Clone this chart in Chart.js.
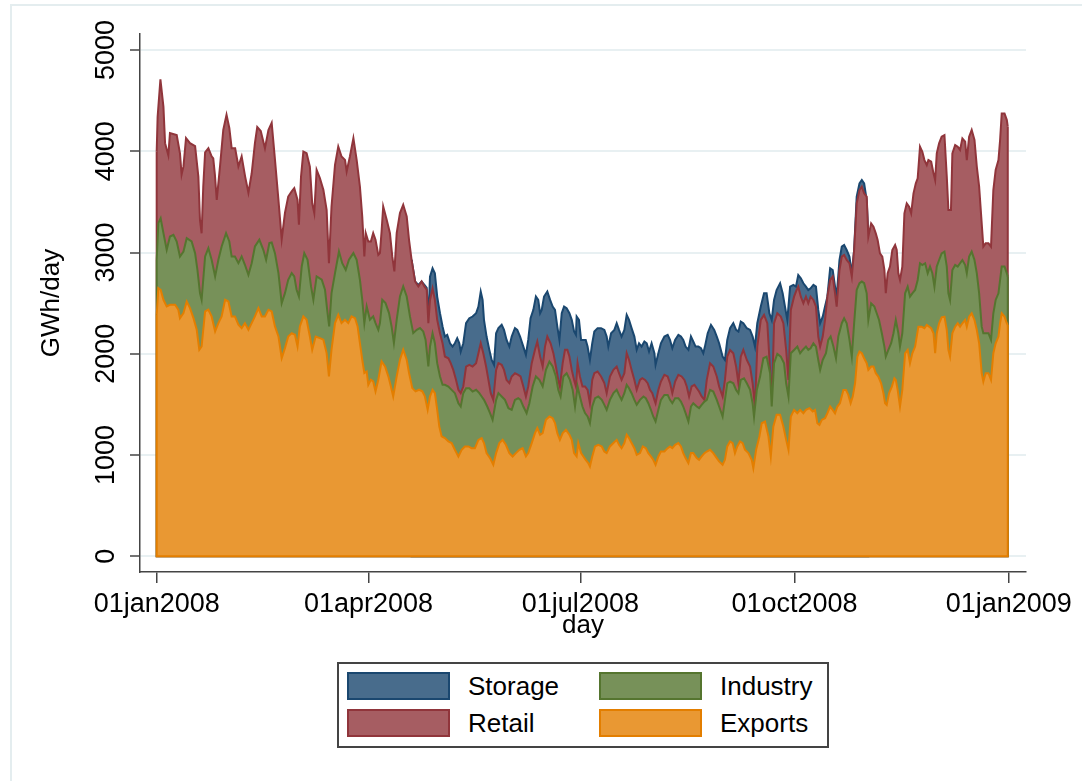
<!DOCTYPE html>
<html lang="en">
<head>
    <meta charset="UTF-8">
    <title>GWh/day by use, 2008</title>
    <script src="https://cdn.jsdelivr.net/npm/chart.js"></script>
    <style>
        body {
            margin: 0;
            background: #fff;
            font-family: "Liberation Sans", Arial, sans-serif;
        }
        #wrap {
            position: relative;
            width: 1082px;
            height: 781px;
            overflow: hidden;
        }
        #frame {
            position: absolute;
            left: 10px;
            top: 4px;
            width: 1200px;
            height: 900px;
            border-left: 2px solid #e4edef;
            border-top: 2px solid #e4edef;
        }
        canvas { position: absolute; left: 0; top: 0; }
        #legend {
            position: absolute;
            left: 337px;
            top: 662px;
            width: 492px;
            height: 86px;
            box-sizing: border-box;
            border: 2px solid #444;
            background: #fff;
        }
        #legend .key {
            position: absolute;
            width: 103px;
            height: 28px;
            box-sizing: border-box;
            border: 2px solid;
        }
        #legend .txt {
            position: absolute;
            font-size: 26px;
            line-height: 28px;
            color: #000;
        }
    </style>
</head>
<body>
<div id="wrap">
    <div id="frame"></div>
    <canvas id="chart" width="1082" height="781"></canvas>
    <div id="legend"></div>
</div>

<script>
// day = days since 01jan2008; each band is stored as the running total at its top edge (GWh/day)
const xTickDays = [0, 91, 182, 274, 366];
const xTickLabels = ['01jan2008', '01apr2008', '01jul2008', '01oct2008', '01jan2009'];
const yTickValues = [0, 1000, 2000, 3000, 4000, 5000];

const exportsLevel = [
    [0,2385],[0.7,2648],[1.7,2632],[2.9,2533],[4.3,2468],[5.7,2484],[7.9,2484],[9.3,2435],[10,2352],[11.5,2402],
    [12.9,2517],[14.3,2451],[15.8,2352],[17.2,2237],[18.3,2040],[19.3,2073],[20.8,2418],[22.2,2435],[23.6,2369],[25.1,2221],
    [26.5,2303],[27.9,2369],[29.4,2533],[30.8,2517],[32.2,2369],[33.6,2369],[35.1,2287],[36.5,2254],[37.9,2303],[39.4,2237],
    [40.8,2303],[42.2,2369],[43.7,2451],[45.1,2369],[46.5,2369],[48,2435],[49.4,2418],[50.8,2270],[52.3,2171],[53.7,1957],
    [55.1,2056],[56.5,2171],[58,2204],[59.4,2188],[60.5,2073],[61.5,2270],[63,2369],[64.4,2336],[65.8,2171],[66.8,2040],
    [68.3,2171],[70.1,2155],[71.6,2139],[73,2007],[74,1777],[75.1,2040],[76.6,2303],[78,2385],[79.4,2303],[80.9,2336],
    [82.3,2303],[83.7,2369],[85.2,2352],[86.3,2270],[87.3,2106],[88.3,1941],[89.2,1810],[90.2,1826],[90.9,1694],[92,1744],
    [93,1727],[94,1629],[95.2,1744],[96.6,1925],[98.1,1875],[99.5,1777],[100.6,1678],[101.6,1579],[103.1,1777],[104.5,1941],
    [105.9,2040],[107.4,1941],[108.4,1810],[109.8,1661],[111.2,1629],[112.7,1645],[114.1,1629],[115.2,1579],[116.4,1448],[117.4,1578],
    [118.5,1644],[119.5,1611],[120.5,1447],[121.4,1282],[122.4,1184],[123.8,1167],[125.3,1134],[126.7,1118],[128.1,1052],[129.6,986],
    [131,1052],[132.4,1085],[133.9,1085],[135.3,1068],[136.7,1068],[138.2,1150],[139.6,1167],[140.6,1118],[141.7,1019],[143.2,970],
    [144.6,904],[145.8,1019],[147.2,1118],[148.6,1150],[150,1101],[151.5,1019],[152.9,986],[154.3,1019],[155.8,1052],[157.2,1068],
    [158.6,986],[159.6,1019],[161.1,1118],[162.5,1216],[163.5,1266],[164.7,1200],[165.8,1216],[167.2,1348],[168.7,1381],[170.1,1364],
    [171.1,1315],[172.1,1216],[173.2,1150],[174.4,1216],[175.8,1249],[177.3,1200],[178.3,1150],[179.3,1019],[180.4,986],[181.1,1118],
    [182.3,1019],[183.3,986],[184.3,953],[185.4,920],[186.1,887],[187.1,986],[188.3,1085],[189.7,1101],[191.2,1085],[192.3,1035],
    [193.3,1019],[194.7,1085],[196.2,1118],[197.6,1150],[198.6,1101],[199.7,1068],[200.9,1118],[201.9,1200],[202.9,1167],[204,1118],
    [205.2,1068],[206.2,1002],[207.6,1019],[208.8,1085],[210.1,1068],[211.2,1019],[212.3,986],[213.3,953],[214.3,904],[215.5,986],
    [216.6,1035],[218.1,1035],[219.5,1068],[220.5,1085],[221.5,1068],[222.7,1101],[224.1,1118],[225.2,1085],[226.2,1019],[227.2,970],
    [228.4,920],[229.5,1019],[230.5,1019],[232,970],[233,953],[234.1,986],[235.3,1019],[236.3,1035],[237.7,1052],[239.1,1019],
    [240.6,970],[241.6,937],[243.1,904],[244.1,953],[245.1,1085],[246.3,1134],[247.4,1118],[248.4,1019],[249.4,1085],[250.6,1134],
    [251.7,1118],[252.7,1052],[254.2,1019],[255.6,953],[256.3,871],[257.5,1052],[258.9,1183],[259.9,1314],[261.3,1331],[262.8,1183],
    [263.8,986],[264.9,1282],[266.3,1397],[267.8,1397],[269.2,1282],[270.4,1150],[271.4,1052],[272.4,1380],[273.8,1446],[275.2,1413],
    [276.4,1446],[277.8,1413],[278.9,1446],[280.4,1463],[281.8,1430],[282.8,1446],[283.8,1314],[284.7,1298],[285.7,1347],[287.1,1364],
    [288.1,1413],[289.3,1479],[290.4,1446],[291.4,1413],[292.4,1479],[293.5,1512],[295,1643],[296.1,1643],[297.1,1594],[298.1,1512],
    [299,1577],[300,1709],[301,1972],[301.9,2022],[302.9,2005],[303.9,1956],[305,1907],[305.7,1841],[306.9,1874],[307.9,1874],
    [308.9,1808],[310,1775],[311.2,1709],[312.2,1610],[312.9,1512],[313.6,1495],[314.6,1610],[315.8,1676],[316.9,1758],[317.5,1742],
    [318.3,1643],[319.3,1479],[320.3,1643],[321.5,2005],[322.6,2038],[323.6,1907],[324.6,2005],[325.8,2071],[327.2,2268],[328.6,2268],
    [329.8,2252],[330.8,2285],[331.8,2268],[332.7,2252],[333.7,2203],[334.4,2005],[335.1,2203],[336.1,2301],[337.2,2360],[338.4,2367],
    [339.4,2235],[340.1,2038],[340.8,1972],[341.8,2203],[343,2268],[344.1,2301],[345.1,2268],[346.1,2301],[347.3,2334],[348,2268],
    [349,2367],[350.1,2400],[351.3,2334],[352.3,2235],[353.3,2104],[354.4,1808],[355.1,1725],[356.1,1808],[357.3,1808],[358.4,1742],
    [359.4,2005],[360.4,2104],[361.6,2170],[362.3,2301],[363,2400],[364.2,2367],[365.2,2301],[365.6,2285]
];

const industryLevel = [
    [0,2928],[0.7,3290],[1.7,3339],[2.9,3191],[4.3,3027],[5.7,3158],[7.2,3175],[8.6,3109],[10,2961],[11.5,3010],
    [12.9,3142],[15,3109],[16.5,2994],[17.5,2829],[18.6,2599],[19.3,2533],[20.8,2961],[22.2,3043],[23.6,2928],[25.1,2764],
    [26.5,2928],[27.9,3060],[29.8,3191],[31.2,3109],[32.2,2961],[33.6,2961],[35.1,2895],[36.5,2961],[37.9,2879],[39.4,2780],
    [40.8,2895],[42.2,3060],[44.1,3126],[45.8,3027],[47,2928],[48.4,3093],[49.4,3099],[50.8,2994],[52.3,2797],[53.7,2500],
    [55.1,2599],[56.5,2731],[58,2797],[59.1,2764],[60.1,2632],[61.1,2566],[62.3,2862],[63.4,2994],[64.8,2928],[66.3,2665],
    [67.3,2533],[68.7,2764],[70.9,2731],[72.3,2632],[73.4,2402],[74.1,2270],[75.1,2599],[76.6,2797],[78.3,3010],[79.7,2895],
    [81.2,2829],[82.6,2928],[84.5,2994],[85.9,2928],[87.3,2731],[88.3,2533],[89.2,2303],[90.2,2468],[91.6,2336],[93,2369],
    [94,2303],[95.2,2237],[95.9,2303],[96.9,2533],[98.3,2500],[99.8,2402],[100.9,2270],[101.9,2106],[103.1,2336],[104.5,2566],
    [105.9,2665],[107.4,2566],[108.8,2369],[110.2,2204],[111.7,2237],[113.1,2254],[114.5,2221],[115.5,2139],[116.7,1875],[117.4,2071],
    [118.5,2203],[119.5,2104],[120.5,1907],[121.7,1776],[122.8,1693],[123.8,1693],[125.3,1677],[126.7,1644],[128.1,1611],[129.6,1512],
    [130.6,1479],[131.7,1611],[132.9,1660],[134.3,1660],[135.7,1627],[137.2,1644],[138.6,1611],[139.6,1578],[140.6,1545],[142,1479],
    [143.2,1414],[144.3,1348],[145.8,1545],[146.8,1611],[148.2,1578],[149.6,1545],[151.1,1463],[152.5,1447],[153.9,1545],[155.3,1561],
    [156.3,1545],[157.5,1479],[158.9,1414],[160.1,1512],[161.5,1677],[162.9,1776],[164.4,1742],[165.8,1677],[167.2,1841],[168.7,1923],
    [170.1,1874],[171.5,1776],[172.5,1644],[173.5,1578],[174.7,1776],[176.1,1808],[177.5,1742],[178.7,1644],[179.7,1479],[180.8,1677],
    [181.8,1578],[182.9,1479],[184,1414],[185.1,1381],[186.1,1315],[187.1,1479],[188.3,1561],[189.7,1578],[191.2,1545],[192.3,1496],
    [193.3,1447],[194.7,1545],[196.2,1611],[197.6,1644],[198.6,1594],[199.7,1545],[200.9,1611],[201.9,1693],[202.9,1660],[204,1611],
    [205.2,1545],[206.2,1496],[207.6,1545],[209.1,1578],[210.1,1561],[211.2,1512],[212.3,1447],[213.3,1381],[214.3,1332],[215.5,1447],
    [216.6,1545],[218.1,1594],[219.5,1594],[220.5,1545],[221.5,1512],[222.7,1561],[224.1,1561],[225.2,1528],[226.2,1479],[227.2,1414],
    [228.4,1332],[229.5,1479],[230.5,1512],[232,1479],[233,1463],[234.1,1496],[235.3,1528],[236.3,1545],[237.7,1644],[239.1,1627],
    [240.6,1545],[241.6,1479],[243.1,1380],[244.1,1545],[245.1,1709],[246.3,1726],[247.7,1709],[248.9,1643],[249.9,1610],[250.9,1742],
    [252.3,1758],[253.5,1709],[254.9,1643],[256,1511],[256.6,1380],[257.8,1643],[259.2,1775],[260.6,1956],[262,1972],[263.5,1808],
    [264.2,1479],[265.2,1907],[266.6,1998],[268.1,1972],[269.5,1907],[270.4,1709],[271.4,1578],[272.4,2005],[273.8,2038],[275.2,2071],
    [276.4,2005],[277.5,2038],[278.9,2071],[279.9,2038],[280.9,2055],[282.1,2104],[283.2,2071],[284.2,1939],[285,1841],[286.1,1939],
    [287.5,2005],[288.5,2137],[289.5,2170],[290.7,2071],[291.8,1956],[292.8,2170],[294.3,2302],[295.3,2351],[296.4,2302],[297.6,2137],
    [298.6,1972],[299.6,2302],[300.7,2631],[301.9,2697],[302.9,2713],[303.9,2697],[305,2597],[305.7,2334],[306.9,2499],[308.3,2466],
    [309.3,2400],[310.3,2334],[311.5,2203],[312.6,2071],[313.2,1972],[314.3,2038],[315.5,2104],[316.5,2203],[317.5,2334],[318.6,2203],
    [319.3,2071],[320.3,2203],[321.5,2597],[322.6,2663],[323.6,2564],[324.6,2597],[325.8,2630],[326.9,2729],[327.9,2894],[328.9,2877],
    [330.1,2894],[331.2,2795],[332.2,2861],[333.2,2795],[334.1,2663],[335.1,2861],[336.1,2926],[337.2,2992],[338.4,3009],[339.4,2861],
    [340.1,2597],[340.8,2532],[341.8,2828],[343,2877],[344.1,2861],[345.1,2894],[346.1,2926],[347.3,2877],[348,2795],[349,2959],
    [350.1,3009],[351.3,2926],[352.3,2795],[353.3,2597],[354.4,2268],[355.1,2203],[356.1,2203],[357.3,2203],[358.4,2137],[359.4,2400],
    [360.4,2532],[361.6,2597],[362.3,2729],[363,2861],[364.2,2861],[365.2,2795],[365.6,2762]
];

const retailLevel = [
    [0,4000],[0.4,4340],[1.6,4710],[2.9,4440],[3.6,4080],[5,3960],[5.7,4180],[8.6,4160],[10,3980],[10.7,3770],
    [11.5,3850],[12.6,4130],[14.3,4080],[16.5,4050],[17.9,3750],[18.6,3320],[19.3,3190],[20,3650],[20.8,3990],[22.2,4030],
    [23.6,3950],[24.3,3930],[25,3770],[25.8,3520],[27.2,3850],[28.6,4210],[30,4360],[31.2,4230],[32.2,4030],[33.7,4030],
    [35.1,3850],[36.5,3950],[38,3750],[39.4,3590],[40.8,3780],[42.2,4080],[43.2,4240],[44.7,4200],[46.5,4030],[48,4210],
    [49.4,4280],[50.8,3920],[52.3,3520],[53.7,3130],[55.1,3390],[56.5,3553],[58,3603],[59.1,3635],[60.5,3520],[61.1,3274],
    [62,3751],[63,3997],[64.4,3981],[65.8,3849],[66.8,3487],[67.7,3389],[68.7,3816],[70.1,3734],[71.6,3619],[73,3422],
    [74,2895],[75.1,3455],[76.6,3866],[78,4047],[79.4,3948],[80.9,3915],[81.6,3800],[83,3948],[84.5,4129],[85.9,3915],
    [87.3,3652],[88.3,3356],[89.2,2961],[89.8,3191],[90.9,3109],[92,3109],[93,3191],[94,3126],[95.2,2977],[95.9,2994],
    [96.6,3208],[97.3,3455],[98.8,3323],[100.2,3191],[101.2,2961],[102.1,2813],[103.1,3191],[104.5,3389],[105.9,3471],[107.4,3356],
    [108.4,3126],[109.5,2928],[111,2714],[112.4,2665],[113.8,2714],[115,2665],[116,2632],[116.7,2303],[117.4,2532],[118.5,2647],
    [119.5,2532],[120.5,2335],[121.7,2203],[122.8,2104],[123.8,1973],[125.3,1956],[126.3,1907],[127.4,1841],[128.6,1742],[129.6,1644],
    [130.6,1611],[131.7,1677],[132.9,1874],[134.3,1891],[135.7,1874],[137.2,1907],[138.2,2006],[139.2,2104],[140.3,2006],[141.5,1874],
    [142.5,1742],[143.5,1611],[144.6,1545],[145.8,1841],[146.8,1907],[148.2,1891],[149.2,1841],[150.3,1742],[151.5,1710],[152.5,1776],
    [153.9,1808],[155.3,1792],[156.3,1776],[157.5,1677],[158.6,1578],[159.6,1677],[161.1,1907],[162.5,2039],[163.5,2121],[164.7,1973],
    [165.8,1874],[166.8,2071],[167.8,2170],[169.2,2104],[170.4,2006],[171.5,1874],[172.5,1742],[173.2,1677],[174.4,1907],[175.4,2039],
    [176.4,2039],[177.3,1973],[178.3,1841],[179.3,1742],[180.1,1677],[180.8,1907],[181.8,1776],[182.9,1677],[184,1677],[185.1,1644],
    [186.1,1512],[187.1,1742],[188,1808],[189.4,1825],[190.9,1776],[192.3,1710],[193.3,1611],[194.7,1776],[196.2,1841],[197.6,1874],
    [198.6,1808],[199.7,1742],[200.9,1808],[201.9,2006],[202.9,1940],[204,1841],[205.2,1742],[206.2,1644],[207.6,1742],[208.6,1759],
    [209.8,1742],[210.9,1710],[211.9,1644],[212.9,1611],[213.8,1545],[214.3,1512],[215.5,1644],[216.6,1726],[218.1,1792],[219.5,1776],
    [220.5,1710],[221.5,1611],[222.7,1726],[224.1,1792],[225.5,1776],[226.7,1742],[227.7,1677],[228.7,1578],[229.8,1677],[231,1693],
    [232,1660],[233,1627],[234.1,1578],[235.3,1545],[236.3,1742],[237.7,1907],[239.1,1874],[240.6,1776],[241.6,1677],[243.1,1578],
    [244.1,1742],[245.1,1972],[246.3,2038],[247.7,2005],[248.9,1874],[249.9,1709],[250.9,1972],[252,2038],[253.5,1939],[254.9,1874],
    [256,1709],[257,1479],[258,2071],[259.5,2334],[260.9,2384],[262.3,2302],[263.5,1841],[264.2,1479],[265.2,2302],[266.6,2400],
    [268.1,2367],[269.2,2302],[270.4,2038],[271.4,1742],[272.4,2433],[273.8,2564],[274.9,2630],[275.6,2663],[276.7,2564],[277.8,2499],
    [278.9,2564],[279.9,2499],[280.9,2564],[282.1,2532],[283.2,2466],[284.2,2170],[285,2071],[286.1,2170],[287.1,2334],[288.1,2564],
    [289.3,2729],[290.4,2762],[291.4,2597],[292.1,2466],[293.3,2827],[294.3,2959],[295.3,2976],[296.4,2926],[297.6,2893],[298.6,2762],
    [299.6,3025],[300.7,3485],[301.9,3617],[302.9,3650],[303.9,3584],[305,3551],[305.7,3157],[306.9,3288],[307.9,3255],[308.9,3189],
    [309.7,3124],[310.7,2992],[311.7,2960],[312.6,2828],[313.2,2598],[314,2795],[315,2861],[316,3025],[317.2,3074],[317.9,3025],
    [318.6,2795],[319.3,2729],[320.3,2861],[321.2,3387],[322.2,3486],[323.2,3453],[324.1,3387],[325.1,3584],[326.1,3683],[326.9,3732],
    [327.9,4045],[328.9,3995],[329.8,3913],[330.8,3864],[331.5,3913],[332.7,3897],[333.7,3782],[334.4,3716],[335.1,3979],[336.1,4078],
    [337.2,4144],[338.4,4160],[339.4,3749],[340.1,3420],[341.2,3420],[341.8,3979],[343,4061],[344.1,4045],[345.1,4012],[346.1,4127],
    [347.3,4094],[348,3913],[349,4144],[350.1,4210],[351.3,4111],[352.3,3848],[353.3,3650],[354.4,3288],[355.1,3058],[356.1,3091],
    [357.3,3091],[358.4,3058],[359.4,3617],[360.4,3815],[361.6,3913],[362.3,4111],[363,4374],[364.2,4374],[365.2,4308],[365.6,4243]
];

// storage only shows above retail from late April to early November
const storageLevel = [
    [109.5,2928],[111,2714],[112.4,2680],[113.8,2714],[115,2680],[116,2650],[116.7,2320],[117.4,2762],[118.5,2844],[119.5,2795],
    [120.5,2565],[121.7,2400],[122.8,2269],[123.8,2170],[124.8,2187],[126,2104],[127.1,2071],[128.1,2104],[129.1,2154],[130,2104],
    [130.6,2022],[131.7,2104],[132.9,2302],[134.3,2351],[135.7,2368],[137.2,2400],[138.2,2466],[139.2,2614],[140,2532],[140.6,2335],
    [141.7,2170],[142.9,2039],[143.9,1940],[144.9,1891],[145.8,2203],[146.8,2253],[148.2,2286],[149.2,2236],[150.3,2137],[151.5,2071],
    [152.5,2170],[153.9,2253],[154.9,2236],[156.1,2170],[157.5,2071],[158.6,1989],[159.6,2137],[160.6,2351],[161.8,2434],[162.9,2565],
    [163.9,2532],[164.7,2400],[165.4,2434],[166.4,2565],[167.8,2614],[169,2532],[170.1,2466],[171.1,2434],[172.1,2269],[173,2137],
    [174,2400],[175,2466],[176.1,2450],[177.3,2400],[178.3,2335],[179.3,2220],[180.1,2187],[180.4,2368],[181.4,2335],[182.3,2137],
    [183.3,2137],[184.3,2137],[185.1,2071],[186.1,1940],[187.1,2104],[188,2220],[189.4,2253],[190.9,2253],[192.3,2236],[193.3,2170],
    [194,2071],[195.2,2203],[196.6,2236],[197.6,2302],[198.6,2236],[199.7,2170],[200.9,2236],[201.9,2384],[202.9,2335],[204,2253],
    [205.2,2170],[206.2,2039],[207.2,2104],[208.3,2071],[209.5,2121],[210.5,2104],[211.5,2022],[212.6,2104],[213.8,2006],[214.3,1891],
    [215.5,2006],[216.6,2104],[218.1,2170],[219.5,2187],[220.5,2137],[221.5,2055],[222.7,2137],[224.1,2187],[225.2,2170],[226.2,2137],
    [227.2,2071],[228.4,2039],[229.5,2170],[230.5,2121],[231.5,2071],[232.7,2071],[233.8,2055],[234.8,2006],[235.5,2071],[236.7,2203],
    [238.1,2286],[239.5,2236],[240.6,2170],[241.6,2104],[243.1,1972],[244.1,1939],[245.1,2137],[246.3,2252],[247.7,2302],[248.9,2236],
    [249.9,2219],[250.9,2318],[252,2302],[253.5,2252],[254.9,2236],[256,2170],[257,2071],[258,2302],[259.5,2466],[260.9,2597],
    [262,2597],[263.2,2400],[264.2,2334],[265.2,2532],[266.3,2630],[267.8,2696],[268.9,2597],[269.9,2466],[270.9,2334],[272.1,2663],
    [273.5,2680],[274.6,2663],[275.6,2778],[276.7,2745],[277.8,2696],[278.9,2663],[279.9,2630],[280.9,2647],[282.1,2680],[283.2,2663],
    [284.2,2433],[285,2302],[286.1,2367],[287.1,2466],[288.1,2564],[289.3,2844],[290.4,2827],[291.4,2663],[292.1,2564],[293.3,2926],
    [294.3,3058],[295.3,3075],[296.4,3025],[297.6,2959],[298.6,2795],[299.6,3025],[300.7,3551],[301.9,3683],[302.9,3716],[303.9,3683],
    [305,3518],[305.7,3157]
];

const lineColors = { Storage: '#1a476f', Retail: '#90353b', Industry: '#55752f', Exports: '#e37e00' };
const fillColors = { Storage: '#486c8c', Retail: '#a65d62', Industry: '#779159', Exports: '#e99833' };

function band(name, data) {
    return {
        label: name,
        data: data,
        borderColor: lineColors[name],
        backgroundColor: fillColors[name],
        borderWidth: 2,
        pointRadius: 0,
        tension: 0,
        fill: 'origin'
    };
}

// outline the side and bottom edges of each area, the way Stata closes the polygon
const areaEdges = {
    id: 'areaEdges',
    afterDatasetDraw(chart, args) {
        const pts = args.meta.data;
        if (!pts.length) return;
        const ctx = chart.ctx;
        const y0 = chart.scales.y.getPixelForValue(0);
        const first = pts[0], last = pts[pts.length - 1];
        const area = chart.chartArea;
        ctx.save();
        ctx.beginPath();
        ctx.rect(area.left, area.top, area.right - area.left, area.bottom - area.top);
        ctx.clip();
        ctx.strokeStyle = chart.data.datasets[args.index].borderColor;
        ctx.lineWidth = 2;
        ctx.beginPath();
        ctx.moveTo(first.x, first.y);
        ctx.lineTo(first.x, y0);
        ctx.lineTo(last.x, y0);
        ctx.lineTo(last.x, last.y);
        ctx.stroke();
        ctx.restore();
    }
};

Chart.defaults.font.family = '"Liberation Sans", Arial, sans-serif';
Chart.defaults.color = '#000';

const ctx = document.getElementById('chart').getContext('2d');
const chart = new Chart(ctx, {
    type: 'line',
    data: {
        // first dataset is drawn last, so exports sits in front
        datasets: [
            band('Exports', exportsLevel),
            band('Industry', industryLevel),
            band('Retail', retailLevel),
            band('Storage', storageLevel)
        ]
    },
    options: {
        responsive: false,
        animation: false,
        devicePixelRatio: 1,
        layout: { padding: { left: 20, top: 34, right: 56, bottom: 139.4 } },
        plugins: {
            legend: { display: false },
            tooltip: { enabled: false }
        },
        scales: {
            x: {
                type: 'linear',
                min: -7.17,
                max: 373.43,
                afterBuildTicks: (s) => { s.ticks = xTickDays.map(v => ({ value: v })); },
                afterFit: (s) => { s.height = 69.6; s.paddingLeft = 0; s.paddingRight = 0; },
                ticks: {
                    autoSkip: false,
                    maxRotation: 0,
                    padding: 5,
                    font: { size: 27 },
                    callback: (v) => xTickLabels[xTickDays.indexOf(v)]
                },
                grid: { drawOnChartArea: false, tickLength: 11, color: '#444', lineWidth: 1.5 },
                border: { display: true, color: '#444', width: 1.5 },
                title: { display: true, text: 'day', font: { size: 26 }, padding: { top: 0, bottom: 0 } }
            },
            y: {
                min: -155,
                max: 5158,
                afterBuildTicks: (s) => { s.ticks = yTickValues.map(v => ({ value: v })); },
                afterFit: (s) => { s.width = 120; s.paddingTop = 0; s.paddingBottom = 0; },
                ticks: {
                    autoSkip: false,
                    minRotation: 90,
                    maxRotation: 90,
                    crossAlign: 'center',
                    padding: -7,
                    font: { size: 27 },
                    callback: (v) => String(v)
                },
                grid: { color: '#e8f0f2', lineWidth: 2, tickLength: 10, tickColor: '#444', tickWidth: 1.5 },
                border: { display: true, color: '#444', width: 1.5 },
                title: { display: true, text: 'GWh/day', font: { size: 26 }, padding: { top: 16.4, bottom: 0 } }
            }
        }
    },
    plugins: [areaEdges]
});

// two-column legend box below the plot: Storage, Industry / Retail, Exports
const legendBox = document.getElementById('legend');
const legendCells = [
    { name: 'Storage', keyLeft: 8, textLeft: 129, top: 8 },
    { name: 'Industry', keyLeft: 260, textLeft: 381, top: 8 },
    { name: 'Retail', keyLeft: 8, textLeft: 129, top: 45 },
    { name: 'Exports', keyLeft: 260, textLeft: 381, top: 45 }
];
legendCells.forEach(c => {
    const key = document.createElement('div');
    key.className = 'key';
    key.style.left = c.keyLeft + 'px';
    key.style.top = c.top + 'px';
    key.style.background = fillColors[c.name];
    key.style.borderColor = lineColors[c.name];
    legendBox.appendChild(key);
    const txt = document.createElement('div');
    txt.className = 'txt';
    txt.style.left = c.textLeft + 'px';
    txt.style.top = c.top + 'px';
    txt.textContent = c.name;
    legendBox.appendChild(txt);
});
</script>
</body>
</html>
